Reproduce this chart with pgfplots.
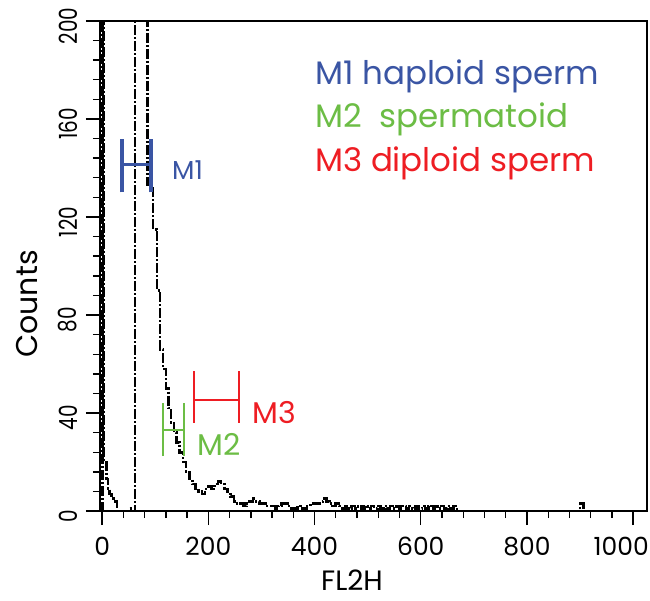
\documentclass[border=0pt]{standalone}
\usepackage{pgfplots}
\pgfplotsset{compat=1.18}
\usepackage{fontspec}
\setmainfont{Poppins}
\definecolor{mblue}{HTML}{3A55A4}
\definecolor{mgreen}{HTML}{6CBD45}
\definecolor{mred}{HTML}{EE1D23}
\begin{document}
\begin{tikzpicture}
\begin{axis}[
  at={(0pt,0pt)}, anchor=south west,
  scale only axis, width=547pt, height=490pt,
  xmin=-4, xmax=1026, ymin=0, ymax=200,
  xtick={0,200,...,1000}, ytick={0,40,...,200},
  xticklabels={0,200,400,600,800,\hspace*{-24pt}1000},
  minor x tick num=4, minor y tick num=4,
  tick align=outside, tick pos=left,
  major tick length=14pt, minor tick length=7pt,
  every tick/.style={black, line width=1.4pt},
  axis line style={line width=1.4pt},
  /pgf/number format/assume math mode=true,
  /pgf/number format/1000 sep={},
  ticklabel style={font=\fontsize{25}{25}\selectfont},
  yticklabel style={rotate=90, anchor=south, xscale=0.8, xshift=-6pt},
  yticklabel shift=5pt,
  xticklabel shift=9pt,
  clip=true,
]
\addplot[const plot, black, line width=2.6pt,
  dash pattern=on 10pt off 2pt on 2pt off 2pt] coordinates {
(0,0) (1,300) (3,20) (8,13) (11,9) (14,7) (18,5) (22,4) (28,0) (50,1) (56,0) (62,300)
(85,133) (96,115) (103,90) (109,66) (115,58) (120,50) (125,42) (130,36) (135,32)
(140,28) (146,24) (152,20) (158,16) (164,13) (170,11) (176,9) (182,8) (188,7)
(194,9) (200,10) (206,9) (212,11) (218,12) (224,11) (230,9) (236,7) (242,6)
(248,4) (254,3) (260,3) (266,2) (272,3) (278,4) (284,5) (290,4) (296,3) (302,3)
(308,2) (314,2) (320,2) (326,1) (332,2) (338,3) (344,3) (350,2) (356,1) (362,1)
(368,2) (374,1) (380,1) (386,2) (392,3) (398,3) (404,3) (410,4) (416,5) (422,4)
(428,3) (434,2) (440,3) (446,2) (452,1) (458,2) (464,1) (470,2) (476,1) (482,2)
(488,1) (494,2) (500,1) (506,2) (512,1) (518,2) (524,1) (530,2) (536,1) (542,2)
(548,1) (554,2) (560,1) (566,2) (572,1) (578,2) (584,1) (590,2) (596,1) (602,2)
(608,1) (614,2) (620,1) (626,2) (632,1) (638,2) (644,1) (650,2) (656,1) (662,2)
(668,0) (900,3) (906,0) (1024,0)
};
% M1 marker
\addplot[mblue, line width=3.5pt] coordinates {(37.7,141.5) (92,141.5)};
\addplot[mblue, line width=3.5pt] coordinates {(37.7,130) (37.7,151.7)};
\addplot[mblue, line width=3.5pt] coordinates {(92,130) (92,151.7)};
% M2 marker
\addplot[mgreen, line width=2.2pt] coordinates {(115,33) (154,33)};
\addplot[mgreen, line width=2.2pt] coordinates {(115,22.5) (115,44)};
\addplot[mgreen, line width=2.2pt] coordinates {(154,22.5) (154,44)};
% M3 marker
\addplot[mred, line width=2.2pt] coordinates {(173,45.4) (258,45.4)};
\addplot[mred, line width=2.2pt] coordinates {(173,36) (173,57)};
\addplot[mred, line width=2.2pt] coordinates {(258,36) (258,57)};
\end{axis}
% labels in pt coordinates (axis south west at origin, 1pt = 1px)
\node[anchor=base west, text=mblue, font=\fontsize{26}{26}\selectfont, inner sep=0pt] at (72pt,331pt) {M1};
\node[anchor=base west, text=mgreen, font=\fontsize{30}{30}\selectfont, inner sep=0pt] at (97pt,56pt) {M2};
\node[anchor=base west, text=mred, font=\fontsize{30}{30}\selectfont, inner sep=0pt] at (152pt,88pt) {M3};
\node[anchor=base west, text=mblue, font=\fontsize{32.5}{32.5}\selectfont, inner sep=0pt] at (215pt,426pt) {M1 haploid sperm};
\node[anchor=base west, text=mgreen, font=\fontsize{32.5}{32.5}\selectfont, inner sep=0pt] at (215pt,383pt) {M2\ \ spermatoid};
\node[anchor=base west, text=mred, font=\fontsize{32.5}{32.5}\selectfont, inner sep=0pt] at (215pt,339pt) {M3 diploid sperm};
\node[anchor=base, font=\fontsize{28}{28}\selectfont, inner sep=0pt] at (252pt,-79pt) {FL2H};
\node[anchor=center, rotate=90, font=\fontsize{30}{30}\selectfont, inner sep=0pt] at (-73pt,207pt) {Counts};
\pgfresetboundingbox
\useasboundingbox (-100pt,-89pt) rectangle (550pt,511pt);
\end{tikzpicture}
\end{document}
